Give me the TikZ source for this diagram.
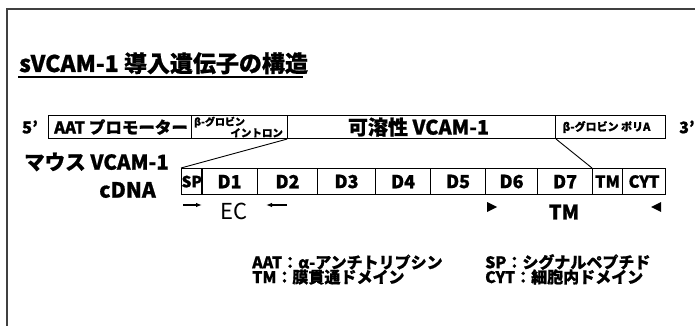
\documentclass[tikz,border=0pt]{standalone}
\usepackage{fontspec}
\setmainfont{Noto Sans CJK JP}[BoldFeatures={FakeBold=0.8}]
\usetikzlibrary{arrows.meta}
\newcommand{\fs}[1]{\bfseries\fontsize{#1}{#1}\selectfont}
\tikzset{
  seg/.style={draw, line width=1.1pt, inner sep=0pt, anchor=north west, minimum height=23pt},
  dseg/.style={draw, line width=1.1pt, inner sep=0pt, anchor=north west, minimum height=26pt, font=\fs{18}},
  txt/.style={inner sep=0pt},
  conn/.style={line width=0.9pt},
  ecarrow/.style={line width=1.1pt, -{Latex[length=6pt,width=4.5pt]}}
}
\begin{document}
\begin{tikzpicture}[x=1pt,y=-1pt]
\useasboundingbox (0,0) rectangle (695,326);
\fill[white] (0,0) rectangle (695,326);
% frame
\draw[line width=1.3pt, black!75] (7,326) -- (7,9) -- (695,9);
% title
\node[txt, anchor=base west, font=\fs{23}] (title) at (19,72) {sVCAM-1 導入遺伝子の構造};
\draw[line width=2pt] (18,77) -- (303,77);
% top construct
\node[txt, font=\fs{16.5}] (p5) at (30,127) {5'};
\node[seg, minimum width=143pt] (aat) at (48,115) {};
\node[txt, anchor=west, font=\fs{16.5}] at ([xshift=6pt]aat.west) {AAT プロモーター};
\node[seg, minimum width=96pt] (intron) at (191,115) {};
\node[txt, anchor=north west, font=\fs{10}] at ([xshift=3pt,yshift=-1.5pt]intron.north west) {β-グロビン};
\node[txt, anchor=south east, font=\fs{10.5}] at ([xshift=-5pt,yshift=1.5pt]intron.south east) {イントロン};
\node[seg, minimum width=268pt] (sol) at (287,115) {};
\node[txt, font=\fs{20}] at ([xshift=-3pt]sol.center) {可溶性 VCAM-1};
\node[seg, minimum width=110pt] (polya) at (555,115) {};
\node[txt, font=\fs{11}] at ([xshift=-4pt]polya.center) {β-グロビン ポリA};
\node[txt, anchor=west, font=\fs{16}] (p3) at (679,127) {3'};
% cDNA label
\node[txt, anchor=west, font=\fs{20.5}] (mouse) at (24,162) {マウス VCAM-1};
\node[txt, anchor=east, font=\fs{21}] (cdna) at (156,190) {cDNA};
% domains
\node[dseg, minimum width=20pt, font=\fs{15.5}] (sp) at (181,168) {SP};
\node[dseg, minimum width=56pt] (d1) at (201,168) {D1};
\node[dseg, minimum width=60pt] (d2) at (257,168) {D2};
\node[dseg, minimum width=58pt] (d3) at (317,168) {D3};
\node[dseg, minimum width=55pt] (d4) at (375,168) {D4};
\node[dseg, minimum width=55pt] (d5) at (430,168) {D5};
\node[dseg, minimum width=52pt] (d6) at (485,168) {D6};
\node[dseg, minimum width=55pt] (d7) at (537,168) {D7};
\node[dseg, minimum width=30pt, font=\fs{16.5}] (tm) at (592,168) {TM};
\node[dseg, minimum width=43pt, font=\fs{16.5}] (cyt) at (622,168) {CYT};
% connectors
\draw[conn] (sol.south west) -- (sp.north west);
\draw[conn] (sol.south east) -- (tm.north west);
% EC arrows
\coordinate (ea1) at (183,205);
\coordinate (ea2) at (202,205);
\coordinate (eb1) at (287,205);
\coordinate (eb2) at (266,205);
\draw[ecarrow] (ea1) -- (ea2);
\draw[ecarrow] (eb1) -- (eb2);
\node[txt, font=\fontsize{22}{22}\selectfont] (ec) at (234,211) {EC};
% TM markers
\fill (487,202) -- (497,207) -- (487,212) -- cycle;
\fill (661,202) -- (651,207) -- (661,212) -- cycle;
\node[txt, font=\fs{20}] (tmlab) at (564,212) {TM};
% legend
\node[txt, anchor=west, font=\fs{16}] (l1) at (252,262) {AAT：α-アンチトリプシン};
\node[txt, anchor=west, font=\fs{16}] (l2) at (252,277) {TM：膜貫通ドメイン};
\node[txt, anchor=west, font=\fs{16}] (l3) at (485,262) {SP：シグナルペプチド};
\node[txt, anchor=west, font=\fs{16}] (l4) at (485,277) {CYT：細胞内ドメイン};
\end{tikzpicture}
\end{document}
